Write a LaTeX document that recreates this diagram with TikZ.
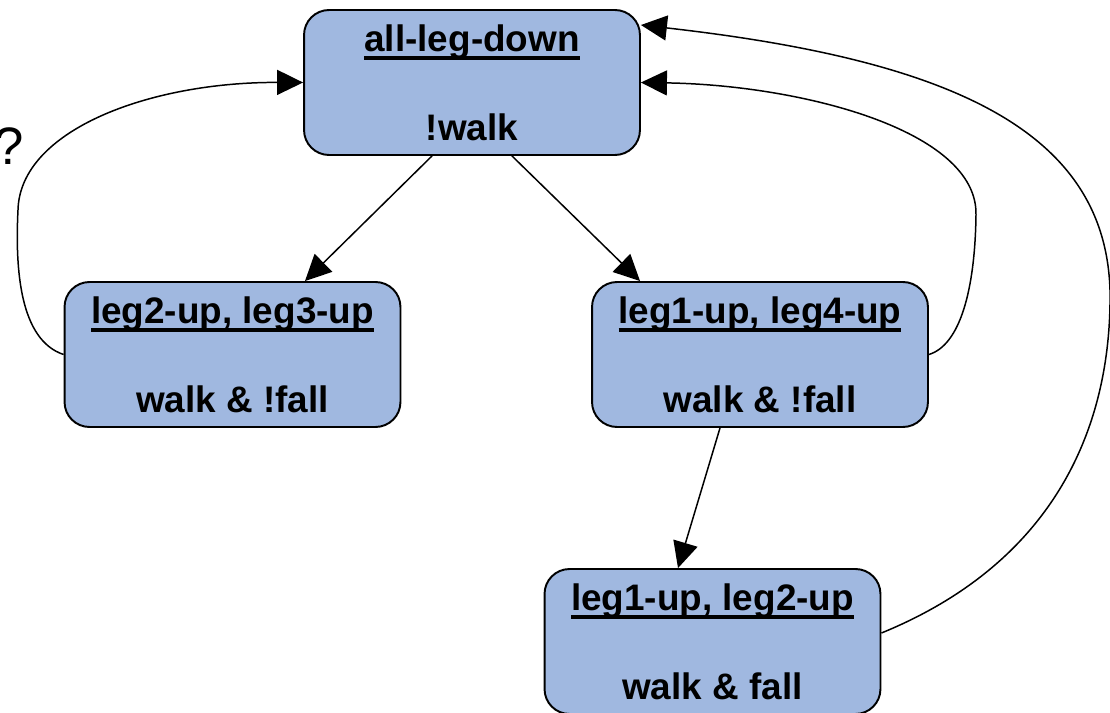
\documentclass[tikz,border=0pt]{standalone}
\usepackage{fontspec}
\setmainfont{Liberation Sans}
\usetikzlibrary{arrows.meta}
\definecolor{statefill}{RGB}{160,184,224}
\newcommand{\stname}[1]{\setbox0=\hbox{#1}\rlap{\raisebox{-5pt}{\rule{\wd0}{2.2pt}}}\box0}

\begin{document}
\begin{tikzpicture}[x=0.02cm,y=-0.02cm,
  state/.style={draw=black,line width=1.1pt,fill=statefill,rounded corners=0.5cm,
    minimum width=6.72cm,minimum height=2.9cm,inner sep=0pt,align=center,
    font=\fontsize{21}{25}\selectfont\bfseries},
  trans/.style={draw=black,line width=0.85pt,-{Triangle[length=0.52cm,width=0.5cm]}}]
\useasboundingbox (0,0) rectangle (1110,713);
\node [state] (alldown) at (472,82.5) {\stname{all-leg-down}\\[0.9cm]!walk};
\node [state] (up23) at (232.5,354.5) {\stname{leg2-up, leg3-up}\\[0.9cm]walk \& !fall};
\node [state] (up14) at (760,354.5) {\stname{leg1-up, leg4-up}\\[0.9cm]walk \& !fall};
\node [state] (up12) at (712.5,641.5) {\stname{leg1-up, leg2-up}\\[0.9cm]walk \& fall};
\node [anchor=east,inner sep=0pt,font=\fontsize{30}{34}\selectfont] (qmark) at (24,146) {?};
% straight transitions
\draw [trans] ([xshift=-0.8cm]alldown.south) -- ([xshift=1.45cm]up23.north);
\draw [trans] ([xshift=0.8cm]alldown.south) -- ([xshift=-2.4cm]up14.north);
\draw [trans] ([xshift=-0.8cm]up14.south) -- ([xshift=-0.69cm]up12.north);
% back to all-leg-down
\draw [trans] (up23.west) .. controls (20,340) and (15,270) .. (18,210)
  .. controls (20,130) and (150,82) .. (alldown.west);
\draw [trans] (up14.east) .. controls (960,345) and (975,290) .. (976,215)
  .. controls (978,130) and (800,85) .. (alldown.east);
\draw [trans] ([yshift=0.17cm]up12.east) .. controls (1060,560) and (1112,420) .. (1110,290)
  .. controls (1105,130) and (950,60) .. ([yshift=1.15cm]alldown.east);
\end{tikzpicture}
\end{document}
